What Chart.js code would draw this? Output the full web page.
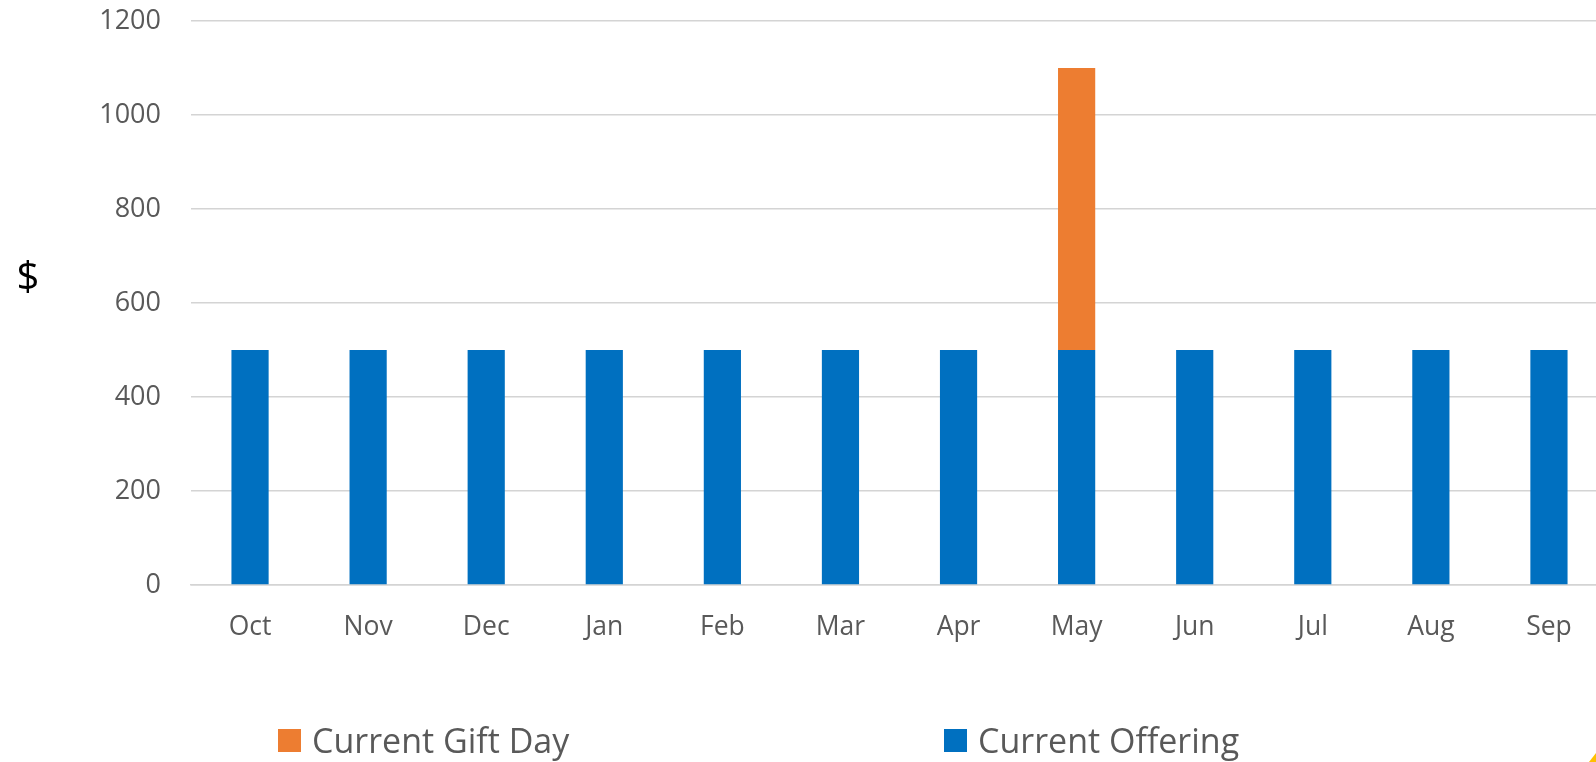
<!DOCTYPE html>
<html>
<head>
<meta charset="utf-8">
<script src="https://cdn.jsdelivr.net/npm/chart.js@4.4.1/dist/chart.umd.min.js"></script>
<style>
  html, body { margin: 0; padding: 0; background: #fff; overflow: hidden; width: 1596px; height: 762px; }
  #wrap { position: absolute; left: 0; top: 0; width: 1608px; height: 762px; }
  .legend-item { position: absolute; top: 723px; display: flex; align-items: center; font-family: 'Open Sans'; font-size: 34px; color: #595959; line-height: 34px; white-space: nowrap; }
  .legend-item .box { width: 23px; height: 23px; margin-right: 11px; display: inline-block; }
  .corner { position: absolute; right: 0; bottom: 0; width: 0; height: 0; border-style: solid; border-width: 0 0 9px 7px; border-color: transparent transparent #FFC000 transparent; }
</style>
</head>
<body>
<div id="wrap"><canvas id="giftChart"></canvas></div>
<div class="legend-item" style="left:278px"><span class="box" style="background:#ED7D31"></span>Current Gift Day</div>
<div class="legend-item" style="left:944px"><span class="box" style="background:#0070C0"></span>Current Offering</div>
<div class="corner"></div>
<script>
const months = ['Oct', 'Nov', 'Dec', 'Jan', 'Feb', 'Mar', 'Apr', 'May', 'Jun', 'Jul', 'Aug', 'Sep'];
const offering = [500, 500, 500, 500, 500, 500, 500, 500, 500, 500, 500, 500];
const giftDay = [0, 0, 0, 0, 0, 0, 0, 600, 0, 0, 0, 0];
const yMin = 0;
const yMax = 1200;
const yStep = 200;

Chart.defaults.font.family = "'Open Sans'";
Chart.defaults.color = '#595959';

// "$" sits upright left of the axis, not rotated like a normal axis title
const dollarLabel = {
    id: 'dollarLabel',
    afterDraw(chart) {
        const ctx = chart.ctx;
        ctx.save();
        ctx.font = "40px 'Open Sans'";
        ctx.fillStyle = '#000000';
        ctx.textAlign = 'center';
        ctx.textBaseline = 'middle';
        ctx.fillText('$', 28, 279);
        ctx.restore();
    }
};

const ctx1 = document.getElementById('giftChart').getContext('2d');

const giftChart = new Chart(ctx1, {
    type: 'bar',
    data: {
        labels: months,
        datasets: [{
            label: 'Current Offering',
            data: offering,
            backgroundColor: '#0070C0',
            borderWidth: 0
        }, {
            label: 'Current Gift Day',
            data: giftDay,
            backgroundColor: '#ED7D31',
            borderWidth: 0
        }]
    },
    options: {
        responsive: true,
        maintainAspectRatio: false,
        animation: false,
        layout: {
            padding: { top: 21, right: 0, bottom: 0, left: 0 }
        },
        datasets: {
            bar: {
                barPercentage: 0.315,
                categoryPercentage: 1
            }
        },
        plugins: {
            legend: { display: false },
            tooltip: { enabled: false }
        },
        scales: {
            x: {
                stacked: true,
                grid: { display: false },
                border: { color: '#d4d4d4', width: 1.5 },
                ticks: {
                    font: { size: 26.5 },
                    padding: 19,
                    maxRotation: 0
                },
                afterFit(scale) { scale.height = 177; }
            },
            y: {
                stacked: true,
                min: yMin,
                max: yMax,
                ticks: {
                    stepSize: yStep,
                    font: { size: 27 },
                    padding: 30,
                    callback: (v) => String(v)
                },
                grid: { color: '#d4d4d4', lineWidth: 1.5, drawTicks: false },
                border: { display: false },
                afterFit(scale) {
                    scale.width = 191;
                    scale.paddingTop = 0;
                    scale.paddingBottom = 0;
                }
            }
        }
    },
    plugins: [dollarLabel]
});
</script>
</body>
</html>
